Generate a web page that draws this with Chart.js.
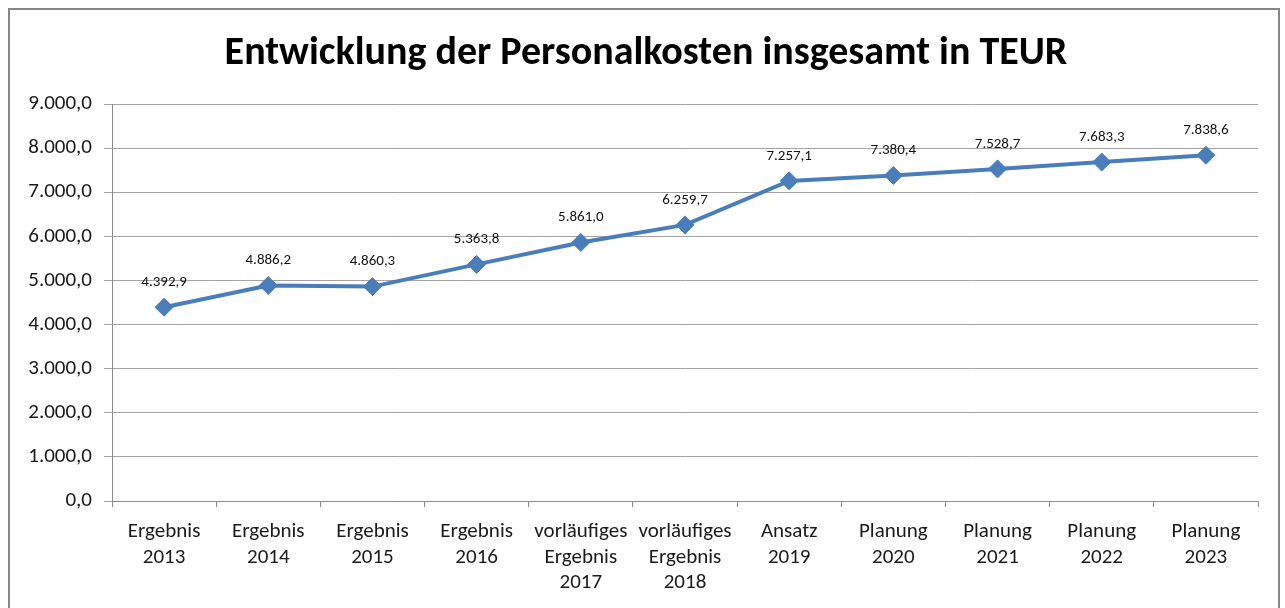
<!DOCTYPE html>
<html>
<head>
<meta charset="utf-8">
<script src="https://cdn.jsdelivr.net/npm/chart.js@4.4.1/dist/chart.umd.min.js"></script>
<style>
  html, body { margin: 0; padding: 0; background: #ffffff; }
  #wrap { position: relative; width: 1285px; height: 608px; }
</style>
</head>
<body>
<div id="wrap"><canvas id="c" width="1285" height="608"></canvas></div>
<script>
const chartTitle = 'Entwicklung der Personalkosten insgesamt in TEUR';
const categories = [
  ['Ergebnis', '2013'],
  ['Ergebnis', '2014'],
  ['Ergebnis', '2015'],
  ['Ergebnis', '2016'],
  ['vorläufiges', 'Ergebnis', '2017'],
  ['vorläufiges', 'Ergebnis', '2018'],
  ['Ansatz', '2019'],
  ['Planung', '2020'],
  ['Planung', '2021'],
  ['Planung', '2022'],
  ['Planung', '2023']
];
const personalkosten = [4392.9, 4886.2, 4860.3, 5363.8, 5861.0, 6259.7, 7257.1, 7380.4, 7528.7, 7683.3, 7838.6];
const yMin = 0;
const yMax = 9000;
const yStep = 1000;

const FONT = "Carlito, Calibri, Lato, 'Open Sans', sans-serif";

function fmtDE(v) {
  const neg = v < 0;
  const fixed = Math.abs(v).toFixed(1);
  const parts = fixed.split('.');
  const intPart = parts[0].replace(/\B(?=(\d{3})+(?!\d))/g, '.');
  return (neg ? '-' : '') + intPart + ',' + parts[1];
}

const framePlugin = {
  id: 'frame',
  beforeDraw(chart) {
    const ctx = chart.ctx;
    ctx.save();
    ctx.fillStyle = '#ffffff';
    ctx.fillRect(0, 0, chart.width, chart.height);
    ctx.strokeStyle = '#878787';
    ctx.lineWidth = 2;
    ctx.strokeRect(9, 9, 1270, 640);
    ctx.restore();
  },
  afterDraw(chart) {
    const ctx = chart.ctx;
    ctx.save();
    ctx.font = 'bold 40px ' + FONT;
    ctx.fillStyle = '#000000';
    ctx.textAlign = 'center';
    ctx.textBaseline = 'alphabetic';
    ctx.fillText(chartTitle, 646, 64);
    ctx.restore();
  }
};

const valueLabelPlugin = {
  id: 'valueLabels',
  afterDatasetsDraw(chart) {
    const ctx = chart.ctx;
    const meta = chart.getDatasetMeta(0);
    const data = chart.data.datasets[0].data;
    ctx.save();
    ctx.font = '15px ' + FONT;
    ctx.fillStyle = '#111111';
    ctx.textAlign = 'center';
    ctx.textBaseline = 'middle';
    meta.data.forEach((pt, i) => {
      ctx.fillText(fmtDE(data[i]), pt.x, pt.y - 25);
    });
    ctx.restore();
  }
};

new Chart(document.getElementById('c'), {
  type: 'line',
  data: {
    labels: categories,
    datasets: [{
      data: personalkosten,
      borderColor: '#4a7ebb',
      backgroundColor: '#4a7ebb',
      borderWidth: 4,
      pointStyle: 'rectRot',
      pointRadius: 9,
      pointBorderWidth: 1,
      pointBackgroundColor: '#4a7ebb',
      pointBorderColor: '#4a7ebb',
      tension: 0,
      fill: false
    }]
  },
  options: {
    responsive: false,
    animation: false,
    devicePixelRatio: 1,
    layout: { padding: { left: 0, right: 27, top: 104, bottom: 0 } },
    plugins: {
      legend: { display: false },
      tooltip: { enabled: false },
      title: { display: false }
    },
    scales: {
      x: {
        offset: true,
        grid: {
          offset: true,
          drawOnChartArea: false,
          drawTicks: true,
          tickLength: 6,
          color: '#8c8c8c'
        },
        border: { color: '#8c8c8c', width: 1 },
        ticks: {
          color: '#1a1a1a',
          font: { family: FONT, size: 21, lineHeight: 1.22 },
          padding: 12,
          maxRotation: 0,
          autoSkip: false
        },
        afterFit(scale) { scale.height = 107; }
      },
      y: {
        min: yMin,
        max: yMax,
        grid: {
          color: '#a3a3a3',
          drawTicks: true,
          tickLength: 8
        },
        border: { color: '#8c8c8c', width: 1 },
        ticks: {
          stepSize: yStep,
          color: '#1a1a1a',
          font: { family: FONT, size: 21 },
          padding: 12,
          callback: (v) => fmtDE(v)
        },
        afterFit(scale) { scale.width = 112; }
      }
    }
  },
  plugins: [framePlugin, valueLabelPlugin]
});
</script>
</body>
</html>
